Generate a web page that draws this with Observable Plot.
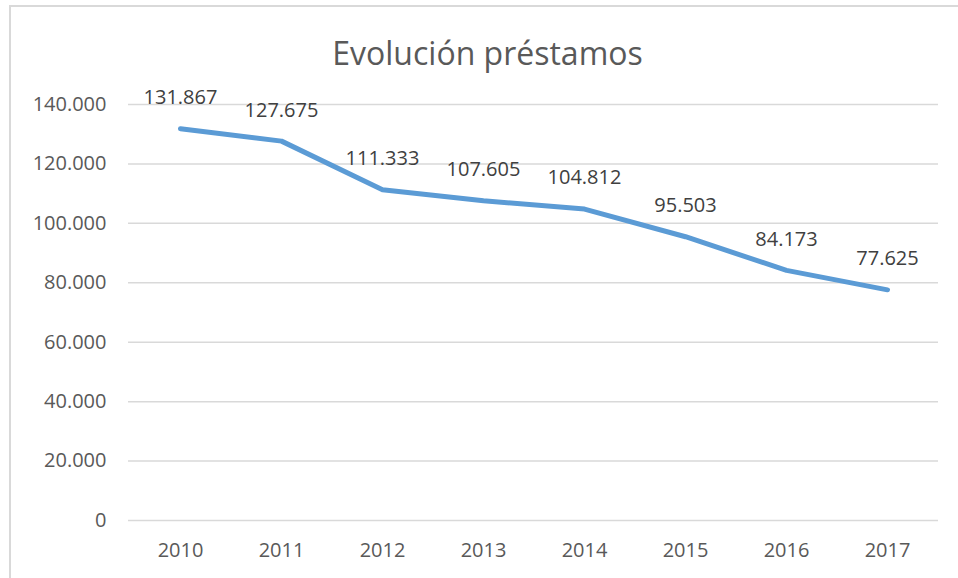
<!DOCTYPE html>
<html>
<head>
<meta charset="utf-8">
<script src="https://cdn.jsdelivr.net/npm/d3@7"></script>
<script src="https://cdn.jsdelivr.net/npm/@observablehq/plot@0.6"></script>
<style>
  html, body { margin: 0; padding: 0; background: #fff; overflow: hidden; }
  #wrap { position: relative; width: 958px; height: 578px; }
  #border { position: absolute; left: 9px; top: 5px; width: 1200px; height: 1200px;
            border: 2px solid #d9d9d9; box-sizing: border-box; pointer-events: none; }
  #chart { position: absolute; left: 0; top: 0; }
</style>
</head>
<body>
<div id="wrap"><div id="border"></div><div id="chart"></div></div>
<script>
const title = "Evolución préstamos";
const years = ["2010", "2011", "2012", "2013", "2014", "2015", "2016", "2017"];
const values = [131867, 127675, 111333, 107605, 104812, 95503, 84173, 77625];
const yTicks = [0, 20000, 40000, 60000, 80000, 100000, 120000, 140000];

const es = d3.formatLocale({decimal: ",", thousands: ".", grouping: [3], currency: ["", "€"]});
const fmt = es.format(",d");

const data = years.map((y, i) => ({year: y, value: values[i]}));

const font = "'Open Sans', sans-serif";
const textColor = "#595959";

const chart = Plot.plot({
  width: 958,
  height: 578,
  marginLeft: 128,
  marginRight: 20,
  marginTop: 104,
  marginBottom: 58,
  style: {fontFamily: font, fontSize: "20px", color: textColor, background: "transparent"},
  x: {type: "point", domain: years, padding: 0.5, label: null, tickSize: 0, tickPadding: 22},
  y: {domain: [0, 140000], ticks: yTicks, tickFormat: fmt, label: null, tickSize: 0, tickPadding: 22},
  marks: [
    Plot.gridY(yTicks, {stroke: "#d9d9d9", strokeOpacity: 1, strokeWidth: 1.5}),
    Plot.axisX({tickSize: 0, tickPadding: 22, fontSize: 20, fill: textColor}),
    Plot.axisY({ticks: yTicks, tickFormat: fmt, tickSize: 0, tickPadding: 22, fontSize: 20, fill: textColor}),
    Plot.line(data, {x: "year", y: "value", stroke: "#5b9bd5", strokeWidth: 5, strokeLinecap: "round", strokeLinejoin: "round"}),
    Plot.text(data, {x: "year", y: "value", text: d => fmt(d.value), dy: -31, fill: "#404040", fontSize: 20}),
    Plot.text([title], {frameAnchor: "top", lineAnchor: "bottom", dx: -46, dy: -40, fontSize: 32, fill: textColor})
  ]
});
document.getElementById("chart").appendChild(chart);
</script>
</body>
</html>
